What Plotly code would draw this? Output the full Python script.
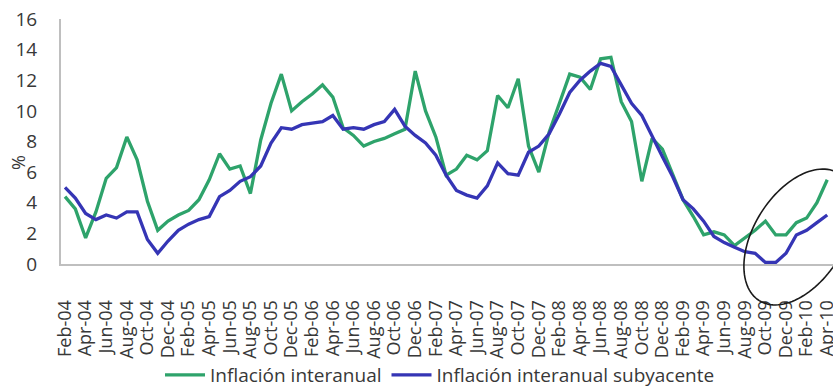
import math
import plotly.graph_objects as go

# Monthly periods Feb-04 .. Apr-10
MONTH_ABBR = ["Jan", "Feb", "Mar", "Apr", "May", "Jun",
              "Jul", "Aug", "Sep", "Oct", "Nov", "Dec"]
months = []
for year in range(2004, 2011):
    for m, abbr in enumerate(MONTH_ABBR, start=1):
        if (year == 2004 and m < 2) or (year == 2010 and m > 4):
            continue
        months.append(f"{abbr}-{str(year)[2:]}")
tick_labels = months[0::2]

# Year-on-year inflation (%)
inflacion = [
    4.4, 3.6, 1.7, 3.4, 5.6, 6.3, 8.3, 6.8, 4.1, 2.2,
    2.8, 3.2, 3.5, 4.2, 5.5, 7.2, 6.2, 6.4, 4.6, 8.1,
    10.5, 12.4, 10.0, 10.6, 11.1, 11.7, 10.9, 8.9, 8.4, 7.7,
    8.0, 8.2, 8.5, 8.8, 12.6, 10.0, 8.3, 5.8, 6.2, 7.1,
    6.8, 7.4, 11.0, 10.2, 12.1, 7.7, 6.0, 8.6, 10.5, 12.4,
    12.2, 11.4, 13.4, 13.5, 10.6, 9.3, 5.4, 8.2, 7.5, 5.8,
    4.2, 3.1, 1.9, 2.1, 1.9, 1.2, 1.7, 2.2, 2.8, 1.9,
    1.9, 2.7, 3.0, 4.0, 5.5,
]

# Year-on-year core inflation (%)
subyacente = [
    5.0, 4.3, 3.3, 2.9, 3.2, 3.0, 3.4, 3.4, 1.6, 0.7,
    1.5, 2.2, 2.6, 2.9, 3.1, 4.4, 4.8, 5.4, 5.7, 6.4,
    7.9, 8.9, 8.8, 9.1, 9.2, 9.3, 9.7, 8.8, 8.9, 8.8,
    9.1, 9.3, 10.1, 9.0, 8.4, 7.9, 7.1, 5.8, 4.8, 4.5,
    4.3, 5.1, 6.6, 5.9, 5.8, 7.3, 7.7, 8.5, 9.8, 11.2,
    12.0, 12.6, 13.1, 12.9, 11.7, 10.5, 9.7, 8.3, 7.0, 5.7,
    4.2, 3.6, 2.8, 1.8, 1.4, 1.1, 0.8, 0.7, 0.1, 0.1,
    0.7, 1.9, 2.2, 2.7, 3.2,
]

W, H = 833, 388
M_L, M_R, M_T, M_B = 61, 0, 19, 124
PW, PH = W - M_L - M_R, H - M_T - M_B

FONT = "Open Sans"
TXT = "#383838"
GREEN = "#2ea36b"
BLUE = "#3535b5"


def px_to_paper(px, py):
    return (px - M_L) / PW, (H - M_B - py) / PH


# Hand-drawn style ellipse highlighting the latest months (page pixels)
cx, cy, a, b, theta = 799, 237, 75, 45, math.radians(58)
pts = []
for k in range(121):
    t = 2 * math.pi * k / 120
    ex = a * math.cos(t)
    ey = b * math.sin(t)
    px = cx + ex * math.cos(theta) - ey * math.sin(theta)
    py = cy - (ex * math.sin(theta) + ey * math.cos(theta))
    pts.append(px_to_paper(px, py))
path = "M " + " L ".join(f"{x:.5f},{y:.5f}" for x, y in pts) + " Z"

fig = go.Figure()
fig.add_trace(go.Scatter(
    x=months, y=inflacion, mode="lines", name="Inflación interanual",
    line=dict(color=GREEN, width=3.3),
))
fig.add_trace(go.Scatter(
    x=months, y=subyacente, mode="lines", name="Inflación interanual subyacente",
    line=dict(color=BLUE, width=3.3),
))

fig.update_layout(
    width=W, height=H,
    margin=dict(l=M_L, r=M_R, t=M_T, b=M_B, autoexpand=False),
    paper_bgcolor="white", plot_bgcolor="white",
    font=dict(family=FONT, size=18, color=TXT),
    showlegend=True,
    legend=dict(
        orientation="h", x=(440 - M_L) / PW, xanchor="center",
        y=(H - M_B - 375) / PH, yanchor="middle",
        bgcolor="rgba(0,0,0,0)",
        font=dict(family=FONT, size=19, color=TXT),
        itemwidth=40, tracegroupgap=0,
    ),
    xaxis=dict(
        type="category", range=[-0.39, 74.56], automargin=False,
        tickmode="array", tickvals=tick_labels, ticktext=tick_labels,
        tickangle=-90, ticks="", ticklabelstandoff=27,
        showline=True, linecolor="#bfbfbf", linewidth=2,
        showgrid=False, zeroline=False,
        tickfont=dict(family=FONT, size=18, color=TXT),
    ),
    yaxis=dict(
        range=[0, 16], tick0=0, dtick=2, ticks="", ticklabelstandoff=18,
        automargin=False,
        showline=True, linecolor="#bfbfbf", linewidth=2,
        showgrid=False, zeroline=False,
        tickfont=dict(family=FONT, size=19, color=TXT),
    ),
    shapes=[dict(
        type="path", xref="paper", yref="paper", path=path,
        line=dict(color="#1a1a1a", width=1.6), fillcolor="rgba(0,0,0,0)",
        layer="above",
    )],
    annotations=[dict(
        text="%", xref="paper", yref="paper",
        x=(18 - M_L) / PW, y=(H - M_B - 163) / PH,
        xanchor="center", yanchor="middle", showarrow=False,
        textangle=-90, font=dict(family=FONT, size=18, color=TXT),
    )],
)

fig.write_html("out.html")
